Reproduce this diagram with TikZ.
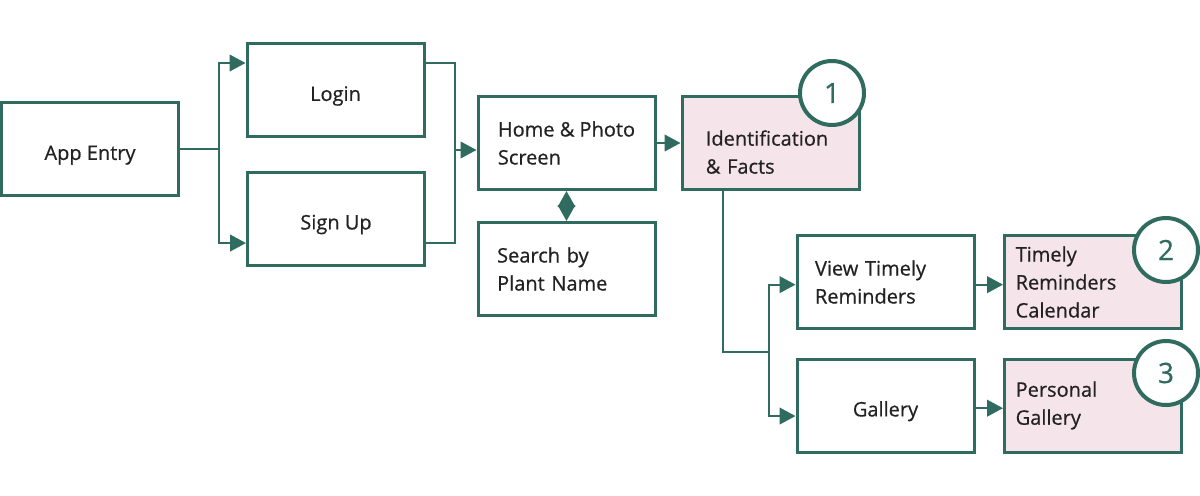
\documentclass[tikz,border=0pt]{standalone}
\usepackage{fontspec}
\setmainfont{Open Sans}[FakeBold=0.6]
\usetikzlibrary{arrows.meta}
\definecolor{grn}{HTML}{2F6B5E}
\definecolor{pnk}{HTML}{F5E4E9}
\definecolor{txt}{HTML}{222222}
\begin{document}
\begin{tikzpicture}[x=0.75pt,y=-0.75pt,
 box/.style={draw=grn, line width=2.25pt, minimum width=132.75pt, minimum height=69.75pt, inner sep=0pt, text=txt, font=\fontsize{15}{21}\selectfont, align=center},
 sbox/.style={box, text height=20pt},
 lbox/.style={box, align=left},
 pbox/.style={lbox, fill=pnk},
 conn/.style={draw=grn, line width=1.5pt},
 arr/.style={conn, -{Triangle[length=12pt,width=12.5pt]}},
 dbl/.style={conn, {Triangle[length=12pt,width=13pt]}-{Triangle[length=12pt,width=13pt]}},
 badge/.style={circle, draw=grn, line width=3pt, fill=white, minimum size=48pt, inner sep=0pt, text=grn, font=\fontsize{21}{21}\selectfont}]
\useasboundingbox[fill=white] (0,0) rectangle (1200,496);

\node[sbox] (app) at (90,149) {App Entry};
\node[sbox] (login) at (335.5,90) {Login};
\node[sbox] (signup) at (336,218.5) {Sign Up};
\node[lbox] (home) at (566.5,143) {Home \& Photo\\Screen};
\node[lbox, text width=104pt] (search) at (566.5,269) {Search by\\Plant Name};
\node[pbox, text width=97pt, text depth=7.5pt] (ident) at (770.5,143) {Identification\\\& Facts};
\node[lbox, text width=105.75pt] (view) at (885.5,282) {View Timely\\Reminders};
\node[sbox] (gallery) at (885.5,405.5) {Gallery};
\node[pbox, text width=116pt] (timely) at (1093,282) {Timely\\Reminders\\Calendar};
\node[pbox, text width=116pt] (personal) at (1093,405.5) {Personal\\Gallery};

\coordinate (j1) at (219,149);
\coordinate (j2) at (455,150);
\coordinate (j3) at (769,352);

\draw[conn] (app.east) -- (j1);
\draw[arr] (j1) |- ([yshift=20.25pt]login.west);
\draw[arr] (j1) |- ([yshift=-18.4pt]signup.west);
\draw[conn] ([yshift=20.25pt]login.east) -| (j2) |- ([yshift=-18.4pt]signup.east);
\draw[arr] (j2) -- (j2 -| home.west);
\draw[dbl] (home.south) -- (search.north);
\draw[arr] (home.east) -- (ident.west);
\draw[conn] ([xshift=-35.6pt]ident.south) |- (j3);
\draw[arr] (j3) |- ([yshift=-2pt]view.west);
\draw[arr] (j3) |- ([yshift=-7.9pt]gallery.west);
\draw[arr] ([yshift=-2pt]view.east) -- ([yshift=-2pt]timely.west);
\draw[arr] ([yshift=-2pt]gallery.east) -- ([yshift=-2pt]personal.west);

\node[badge] (c1) at (832,93) {1};
\node[badge] (c2) at (1166,250) {2};
\node[badge] (c3) at (1166,373) {3};
\end{tikzpicture}
\end{document}
